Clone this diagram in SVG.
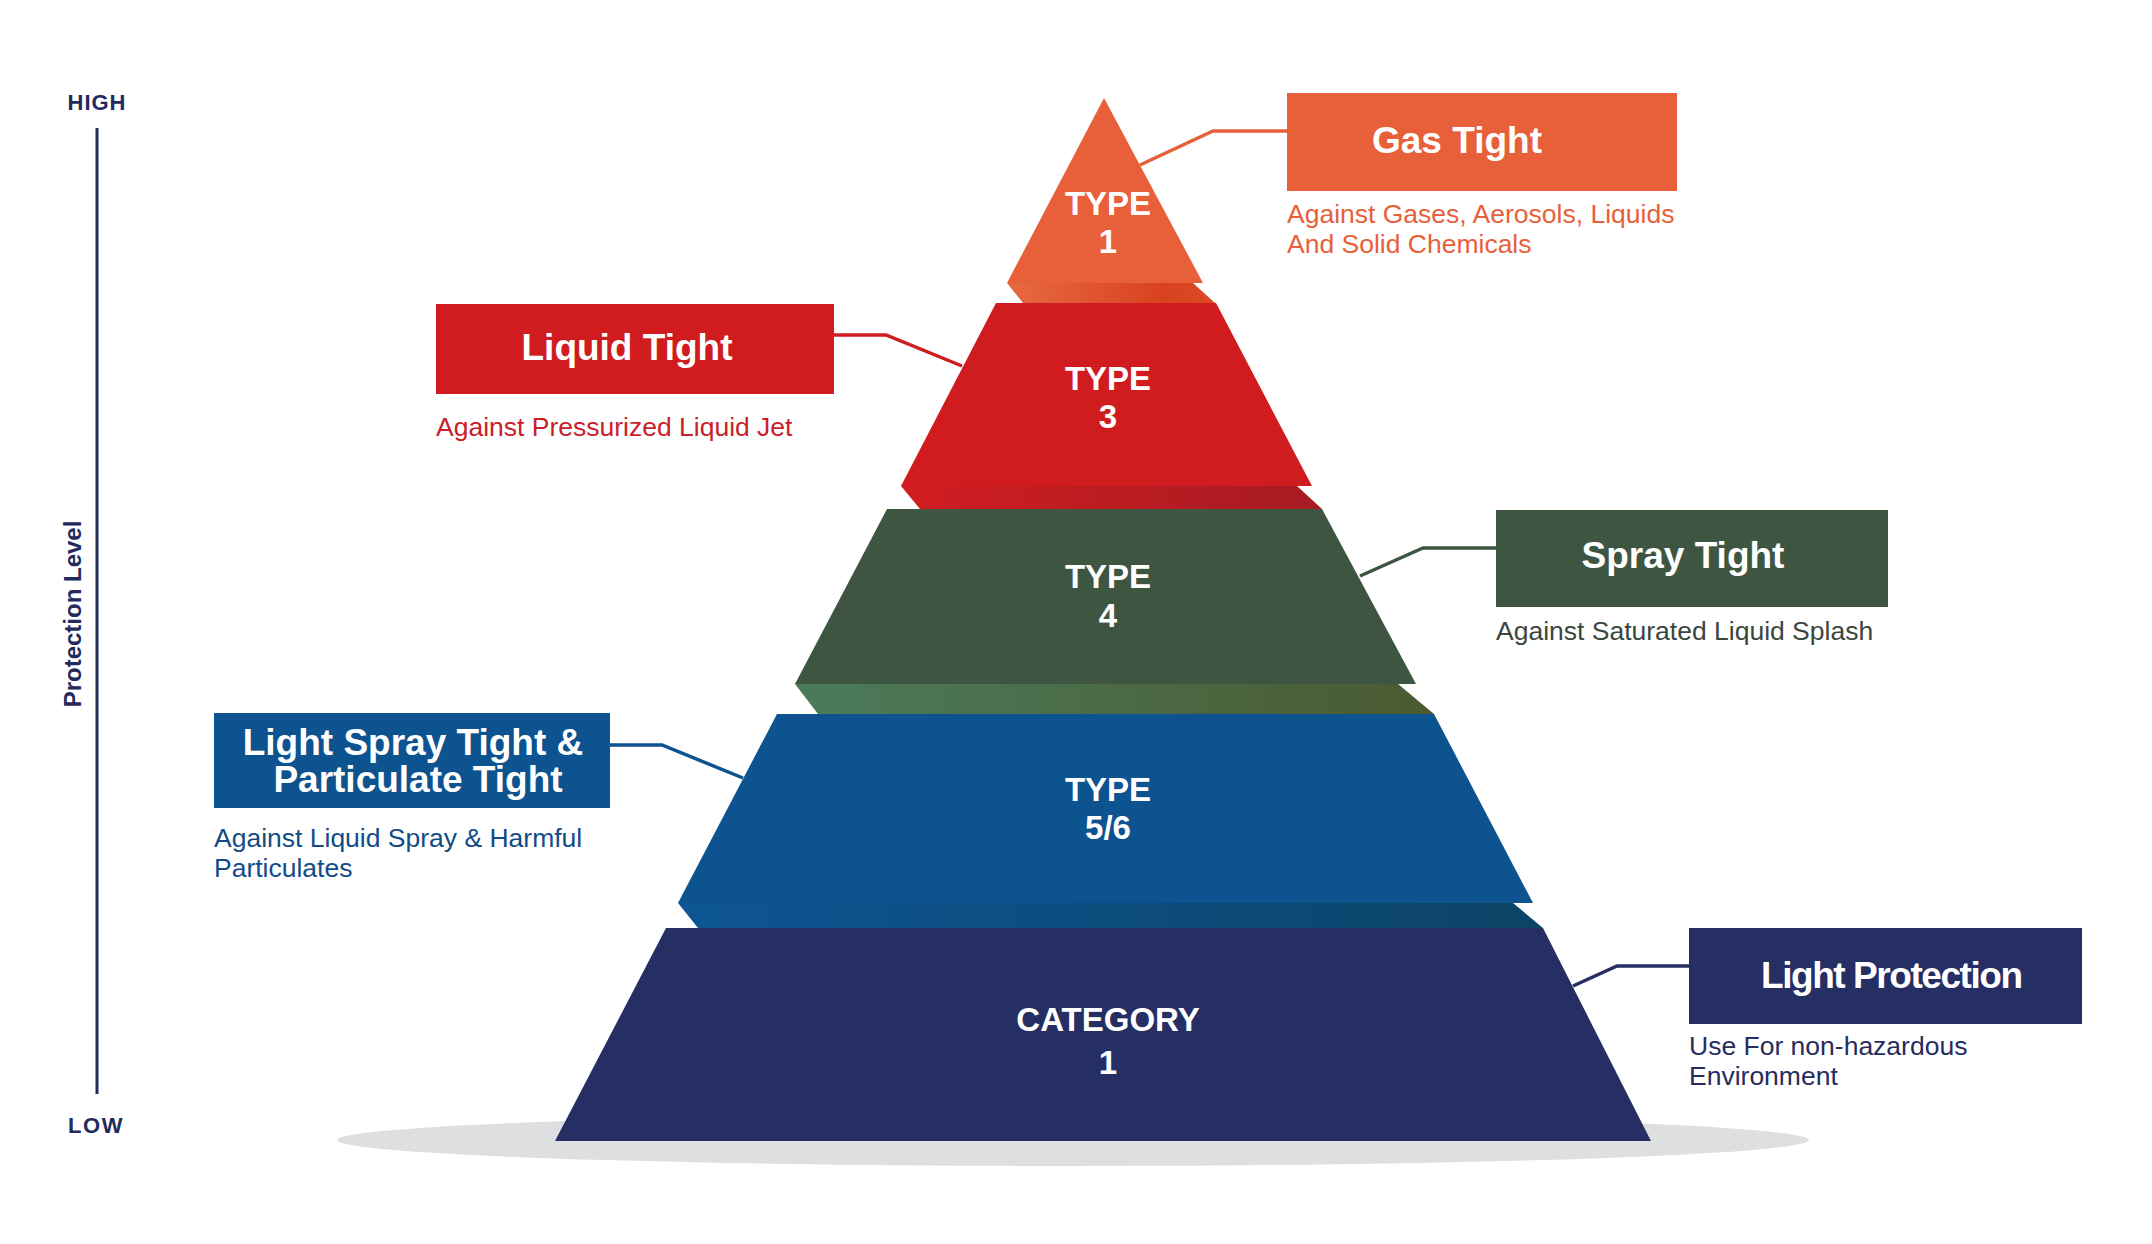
<svg xmlns="http://www.w3.org/2000/svg" width="2152" height="1244" viewBox="0 0 2152 1244">
<defs>
<linearGradient id="g1" x1="0" y1="0" x2="1" y2="0"><stop offset="0" stop-color="#e86a42"/><stop offset="0.75" stop-color="#d8421f"/><stop offset="1" stop-color="#dc4a26"/></linearGradient>
<linearGradient id="g3" x1="0" y1="0" x2="1" y2="0"><stop offset="0" stop-color="#d11d21"/><stop offset="1" stop-color="#a51b22"/></linearGradient>
<linearGradient id="g4" x1="0" y1="0" x2="1" y2="0"><stop offset="0" stop-color="#4b7b5b"/><stop offset="1" stop-color="#4a5a30"/></linearGradient>
<linearGradient id="g5" x1="0" y1="0" x2="1" y2="0"><stop offset="0" stop-color="#0d5594"/><stop offset="1" stop-color="#0c4466"/></linearGradient>
</defs>
<style>
text{font-family:"Liberation Sans",Arial,sans-serif}
.tier{font-size:33px;font-weight:bold;fill:#fff;text-anchor:middle}
.title{font-size:37px;font-weight:bold;fill:#fff;text-anchor:middle}
.desc{font-size:26.5px}
.conn{fill:none;stroke-width:3.5;stroke-linejoin:miter}
.axis{fill:#232a5c;font-weight:bold}
</style>
<rect width="2152" height="1244" fill="#fff"/>
<g id="axis">
<line x1="97" y1="128" x2="97" y2="1094" stroke="#232a5c" stroke-width="3"/>
<text class="axis" x="97" y="110" font-size="22" text-anchor="middle" letter-spacing="1">HIGH</text>
<text class="axis" x="96" y="1133" font-size="22" text-anchor="middle" letter-spacing="1.5">LOW</text>
<text class="axis" x="81" y="614" font-size="24" text-anchor="middle" transform="rotate(-90 81 614)">Protection Level</text>
</g>
<ellipse id="shadow" cx="1073" cy="1140" rx="736" ry="26" fill="#dedfe0"/>
<g id="connectors">
<polyline class="conn" stroke="#e8603a" points="1287,131 1213,131 1140,165"/>
<polyline class="conn" stroke="#d01c1f" points="834,335 886,335 962,366"/>
<polyline class="conn" stroke="#3e5641" points="1496,548 1423,548 1360,576"/>
<polyline class="conn" stroke="#0d5390" points="610,745 662,745 743,778"/>
<polyline class="conn" stroke="#252f63" points="1689,966 1617,966 1573,986"/>
</g>
<g id="tier-cat1">
<polygon points="666,928 1543,928 1651,1141 555,1141" fill="#252f63"/>
<text class="tier" x="1108" y="1031">CATEGORY</text>
<text class="tier" x="1108" y="1074">1</text>
</g>
<g id="tier-type56">
<polygon points="678,903 1513,903 1543,928 698,928" fill="url(#g5)"/>
<polygon points="777,714 1434,714 1533,903 678,903" fill="#0d5390"/>
<text class="tier" x="1108" y="801">TYPE</text>
<text class="tier" x="1108" y="839">5/6</text>
</g>
<g id="tier-type4">
<polygon points="795,684 1398,684 1434,714 818,714" fill="url(#g4)"/>
<polygon points="887,509 1322,509 1416,684 795,684" fill="#3e5641"/>
<text class="tier" x="1108" y="588">TYPE</text>
<text class="tier" x="1108" y="627">4</text>
</g>
<g id="tier-type3">
<polygon points="901,486 1297,486 1322,509 920,509" fill="url(#g3)"/>
<polygon points="996,303 1216,303 1312,486 901,486" fill="#d01c1f"/>
<text class="tier" x="1108" y="390">TYPE</text>
<text class="tier" x="1108" y="428">3</text>
</g>
<g id="tier-type1">
<polygon points="1007,283 1193,283 1215,303 1023,303" fill="url(#g1)"/>
<polygon points="1104,98 1203,283 1007,283" fill="#e8603a"/>
<text class="tier" x="1108" y="215">TYPE</text>
<text class="tier" x="1108" y="253">1</text>
</g>
<g id="label-gas">
<rect x="1287" y="93" width="390" height="98" fill="#e8603a"/>
<text class="title" x="1457" y="153">Gas Tight</text>
<text class="desc" fill="#e8603a" x="1287" y="223">Against Gases, Aerosols, Liquids</text>
<text class="desc" fill="#e8603a" x="1287" y="253">And Solid Chemicals</text>
</g>
<g id="label-liquid">
<rect x="436" y="304" width="398" height="90" fill="#d01c1f"/>
<text class="title" x="627" y="360">Liquid Tight</text>
<text class="desc" fill="#c9202a" x="436" y="436">Against Pressurized Liquid Jet</text>
</g>
<g id="label-spray">
<rect x="1496" y="510" width="392" height="97" fill="#3e5641"/>
<text class="title" x="1683" y="568">Spray Tight</text>
<text class="desc" fill="#3b4640" x="1496" y="640">Against Saturated Liquid Splash</text>
</g>
<g id="label-lightspray">
<rect x="214" y="713" width="396" height="95" fill="#0d5390"/>
<text class="title" x="413" y="755">Light Spray Tight &amp;</text>
<text class="title" x="418" y="792">Particulate Tight</text>
<text class="desc" fill="#124c86" x="214" y="847">Against Liquid Spray &amp; Harmful</text>
<text class="desc" fill="#124c86" x="214" y="877">Particulates</text>
</g>
<g id="label-light">
<rect x="1689" y="928" width="393" height="96" fill="#252f63"/>
<text class="title" x="1892" y="988" textLength="262" lengthAdjust="spacing">Light Protection</text>
<text class="desc" fill="#262d5e" x="1689" y="1055">Use For non-hazardous</text>
<text class="desc" fill="#262d5e" x="1689" y="1085">Environment</text>
</g>
</svg>
